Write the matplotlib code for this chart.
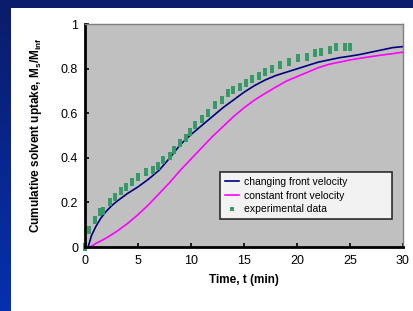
import numpy as np
import matplotlib
matplotlib.use('Agg')
import matplotlib.pyplot as plt
from matplotlib.patches import Rectangle

plt.rcParams['font.family'] = ['Liberation Sans', 'DejaVu Sans']
plt.rcParams['mathtext.fontset'] = 'custom'
plt.rcParams['mathtext.rm'] = 'Liberation Sans'
plt.rcParams['mathtext.bf'] = 'Liberation Sans:bold'

# changing front velocity (model)
t_changing = [0.3, 0.6, 1, 1.5, 2, 2.5, 3, 4, 5, 6, 7, 8, 9, 10, 11, 12, 13, 14, 15,
              16, 17, 18, 19, 20, 21, 22, 23, 24, 25, 26, 27, 28, 29, 30]
y_changing = [0, 0.05, 0.09, 0.13, 0.16, 0.185, 0.205, 0.24, 0.27, 0.305, 0.345, 0.40,
              0.46, 0.505, 0.545, 0.585, 0.625, 0.66, 0.695, 0.725, 0.75, 0.77, 0.785,
              0.80, 0.815, 0.83, 0.84, 0.85, 0.857, 0.865, 0.875, 0.885, 0.895, 0.90]

# constant front velocity (model)
t_constant = [0.5, 1, 2, 3, 4, 5, 6, 7, 8, 9, 10, 11, 12, 13, 14, 15, 16, 17, 18, 19,
              20, 21, 22, 23, 24, 25, 26, 27, 28, 29, 30]
y_constant = [0, 0.015, 0.04, 0.07, 0.105, 0.145, 0.19, 0.24, 0.29, 0.345, 0.395,
              0.445, 0.495, 0.54, 0.585, 0.625, 0.66, 0.69, 0.718, 0.745, 0.765, 0.785,
              0.805, 0.82, 0.83, 0.84, 0.848, 0.855, 0.862, 0.868, 0.875]

# experimental data
t_exp = [0, 0.4, 0.9, 1.4, 1.7, 2.4, 2.8, 3.4, 3.9, 4.4, 5.0, 5.8, 6.4, 6.9, 7.4, 8.0,
         8.4, 9.0, 9.5, 9.9, 10.4, 11.0, 11.6, 12.3, 12.9, 13.5, 14.0, 14.6, 15.2, 15.8,
         16.4, 17.0, 17.6, 18.4, 19.2, 20.1, 20.9, 21.7, 22.3, 23.1, 23.7, 24.5, 25.0]
y_exp = [0, 0.076, 0.12, 0.155, 0.16, 0.20, 0.225, 0.25, 0.27, 0.29, 0.316, 0.335, 0.346,
         0.365, 0.39, 0.41, 0.435, 0.466, 0.49, 0.518, 0.548, 0.575, 0.60, 0.638, 0.66,
         0.69, 0.705, 0.72, 0.735, 0.755, 0.77, 0.787, 0.80, 0.817, 0.832, 0.847, 0.855,
         0.87, 0.877, 0.885, 0.897, 0.90, 0.90]

fig = plt.figure(figsize=(4.14, 3.11), dpi=100, facecolor='white')

# blue slide background with white panel
bg = fig.add_axes([0, 0, 1, 1], zorder=0)
grad = np.linspace(0, 1, 256).reshape(-1, 1)
bg.imshow(grad, aspect='auto', extent=[0, 1, 0, 1], origin='upper',
          cmap=matplotlib.colors.LinearSegmentedColormap.from_list('bg', ['#0b1c6a', '#0630b0']))
bg.add_patch(Rectangle((11 / 414, 0), 1, 1 - 8 / 311, facecolor='white', edgecolor='none'))
bg.set_xlim(0, 1)
bg.set_ylim(0, 1)
bg.axis('off')

ax = fig.add_axes([85 / 414, 1 - 247 / 311, 318 / 414, 222.7 / 311], zorder=1)
ax.set_facecolor('#C0C0C0')

ax.plot(t_changing, y_changing, color='#000080', lw=1.2, label='changing front velocity')
ax.plot(t_constant, y_constant, color='#FF00FF', lw=1.2, label='constant front velocity')
ax.plot(t_exp, y_exp, ls='none', marker='|', ms=5.5, mew=2.8, color='#339966',
        label='experimental data', clip_on=False)

ax.set_xlim(0, 30)
ax.set_ylim(0, 1)
ax.set_xticks([0, 5, 10, 15, 20, 25, 30])
ax.set_yticks([0, 0.2, 0.4, 0.6, 0.8, 1])
ax.set_yticklabels(['0', '0.2', '0.4', '0.6', '0.8', '1'])
ax.tick_params(direction='in', length=3, width=1.2, labelsize=9, colors='black')
ax.tick_params(axis='x', pad=6)
ax.tick_params(axis='y', pad=5)

for s in ['left', 'bottom']:
    ax.spines[s].set_linewidth(2)
    ax.spines[s].set_color('black')
for s in ['top', 'right']:
    ax.spines[s].set_linewidth(1)
    ax.spines[s].set_color('#808080')

ax.set_xlabel('Time, t (min)', fontsize=8.5, fontweight='bold', labelpad=5)
ax.set_ylabel(r'Cumulative solvent uptake, M$_\mathbf{s}$/M$_\mathbf{inf}$',
              fontsize=8.5, fontweight='bold', labelpad=12)

leg = ax.legend(loc='lower left', bbox_to_anchor=(0.4245, 0.124, 0.54, 0.2366),
                mode='expand', fontsize=7.5, frameon=True, fancybox=False,
                handlelength=1.3, handletextpad=0.5, borderpad=0.5, labelspacing=0.35,
                markerscale=0.6, borderaxespad=0)
frame = leg.get_frame()
frame.set_facecolor((1, 1, 1, 1))
frame.set_edgecolor('black')
frame.set_linewidth(1.2)
leg.set_zorder(10)

fig.savefig('out.png', dpi=100, facecolor='white')
